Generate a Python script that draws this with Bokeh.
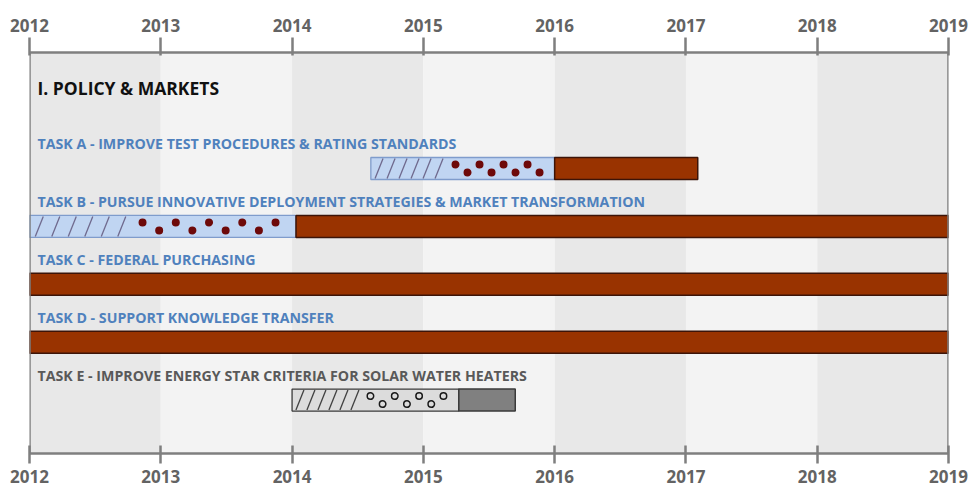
import numpy as np
from bokeh.plotting import figure
from bokeh.models import Range1d, LinearAxis, FixedTicker, Span
from bokeh.core.properties import value
from bokeh.embed import file_html
from bokeh.resources import INLINE

# ---------------- data ----------------
years = [2012, 2013, 2014, 2015, 2016, 2017, 2018, 2019]
section_title = "I. POLICY & MARKETS"
tasks = [
    "TASK A - IMPROVE TEST PROCEDURES & RATING STANDARDS",
    "TASK B - PURSUE INNOVATIVE DEPLOYMENT STRATEGIES & MARKET TRANSFORMATION",
    "TASK C - FEDERAL PURCHASING",
    "TASK D - SUPPORT KNOWLEDGE TRANSFER",
    "TASK E - IMPROVE ENERGY STAR CRITERIA FOR SOLAR WATER HEATERS",
]
task_group = ["core", "core", "core", "core", "other"]
# planning phase (light bar: hatched part then dotted part)
plan_start = [2014.60, 2012.00, None, None, 2014.00]
hatch_end = [2015.18, 2012.76, None, None, 2014.52]
dots_start = [2015.245, 2012.861, None, None, 2014.597]
dots_end = [2015.885, 2013.874, None, None, 2015.153]
dots_count = [8, 9, 0, 0, 7]
plan_end = [2016.00, 2014.03, None, None, 2015.27]
# active phase (solid bar)
active_start = [2016.00, 2014.03, 2012.00, 2012.00, 2015.27]
active_end = [2017.09, 2019.00, 2019.00, 2019.00, 2015.70]

# ---------------- styles ----------------
palette = {
    "core": dict(text="#4f81bd", plan_fill="#c0d5f2", plan_line="#7f9ccc",
                 hatch="#6f6a8e", dot="#6e0a0a", dot_fill="#6e0a0a",
                 solid="#993300", solid_line="#3c1408"),
    "other": dict(text="#595959", plan_fill="#dcdcdc", plan_line="#3a3a3a",
                  hatch="#404040", dot="#1a1a1a", dot_fill="#dcdcdc",
                  solid="#808080", solid_line="#3a3a3a"),
}
hatch_gap_px = [12, 16.5, 0, 0, 11]
FONT = value("Open Sans")
AXIS_COL = "#7f7f7f"

W, H = 969, 491
MB_L, MB_R, MB_T, MB_B = 29, 21, 52, 38
FRAME_H = H - MB_T - MB_B
PX_PER_YEAR = (W - MB_L - MB_R) / (years[-1] - years[0])

p = figure(width=W, height=H, output_backend="svg", toolbar_location=None,
           x_range=Range1d(years[0], years[-1]), y_range=Range1d(FRAME_H, 0),
           min_border_left=MB_L, min_border_right=MB_R,
           min_border_top=MB_T, min_border_bottom=MB_B,
           x_axis_location="below", y_axis_location=None)
p.outline_line_color = None
p.background_fill_color = "white"
p.border_fill_color = "white"
p.xgrid.visible = False
p.ygrid.visible = False

# alternating year bands
band_cols = ["#e8e8e8" if i % 2 == 0 else "#f3f3f3" for i in range(len(years) - 1)]
p.quad(left=years[:-1], right=years[1:], top=0, bottom=FRAME_H,
       fill_color=band_cols, line_color=None)

for loc in (years[0], years[-1]):
    p.add_layout(Span(location=loc, dimension="height", line_color=AXIS_COL,
                      line_width=2.5))

LABEL_X = years[0] + 8 / PX_PER_YEAR

# section title
p.text(x=[LABEL_X], y=[35], text=[section_title], text_font=FONT,
       text_font_style="bold", text_font_size="17.5px", text_color="#111111",
       text_baseline="middle")

BAR_Y0, ROW_STEP, LABEL_OFF, BAR_H = 116, 57.9, 25, 22
SLANT = 8 / PX_PER_YEAR

for i, name in enumerate(tasks):
    st = palette[task_group[i]]
    by = BAR_Y0 + i * ROW_STEP
    top_y, bot_y = by - BAR_H / 2, by + BAR_H / 2
    p.text(x=[LABEL_X], y=[by - LABEL_OFF], text=[name], text_font=FONT,
           text_font_style="bold", text_font_size="14.2px", text_color=st["text"],
           text_baseline="middle")
    if plan_start[i] is not None:
        p.quad(left=[plan_start[i]], right=[plan_end[i]], top=[top_y],
               bottom=[bot_y], fill_color=st["plan_fill"],
               line_color=st["plan_line"], line_width=1.3)
        gap = hatch_gap_px[i] / PX_PER_YEAR
        hx = np.arange(plan_start[i] + gap * 0.35, hatch_end[i] - SLANT, gap)
        p.segment(x0=hx, y0=[bot_y - 1] * len(hx), x1=hx + SLANT,
                  y1=[top_y + 1] * len(hx), line_color=st["hatch"], line_width=1.3)
        dx = np.linspace(dots_start[i], dots_end[i], dots_count[i])
        dy = [by - 4 if k % 2 == 0 else by + 4 for k in range(dots_count[i])]
        p.scatter(x=dx, y=dy, size=6.5, fill_color=st["dot_fill"],
                  line_color=st["dot"], line_width=1.5)
    p.quad(left=[active_start[i]], right=[active_end[i]], top=[top_y],
           bottom=[bot_y], fill_color=st["solid"],
           line_color=st["solid_line"], line_width=1.5)

# axes
def style_axis(ax, tin, tout, standoff):
    ax.ticker = FixedTicker(ticks=years)
    ax.axis_line_color = AXIS_COL
    ax.axis_line_width = 2.5
    ax.major_tick_line_color = AXIS_COL
    ax.major_tick_line_width = 2.5
    ax.major_tick_in = tin
    ax.major_tick_out = tout
    ax.minor_tick_line_color = None
    ax.major_label_text_font = "Open Sans"
    ax.major_label_text_font_style = "bold"
    ax.major_label_text_font_size = "17px"
    ax.major_label_text_color = "#636363"
    ax.major_label_standoff = standoff

style_axis(p.xaxis[0], 8, 10, 6)
top = LinearAxis()
style_axis(top, 3, 15, 6)
p.add_layout(top, "above")

open("out.html", "w").write(file_html(p, INLINE))
